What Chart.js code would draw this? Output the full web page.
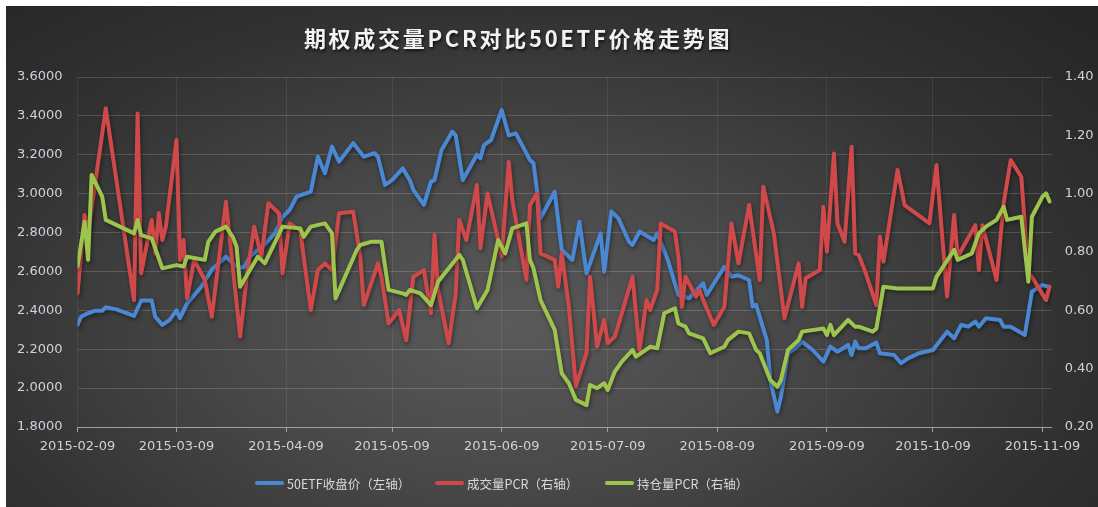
<!DOCTYPE html>
<html lang="zh-CN">
<head>
<meta charset="UTF-8">
<title>期权成交量PCR对比50ETF价格走势图</title>
<script src="https://cdn.jsdelivr.net/npm/chart.js"></script>
<style>
    body { margin: 0; background: #fff; }
    #wrap {
        position: absolute; left: 6px; top: 6px; width: 1092px; height: 501px; overflow: hidden;
        background: radial-gradient(ellipse 72% 90% at 46% 64%, #5a5a5a 0%, #484848 35%, #323232 70%, #262626 100%);
    }
    #chart { position: absolute; left: 0; top: 0; }
    #title {
        position: absolute; left: 0; top: 16px; width: 1024px; text-align: center;
        font: bold 22px "Noto Sans CJK SC", sans-serif; letter-spacing: 2.7px; line-height: 30px;
        color: #f2f2f2; text-shadow: 1px 2px 3px rgba(0,0,0,0.7);
    }
    #legend {
        position: absolute; left: 249px; top: 467px; height: 20px; width: 560px;
        font: 12.5px "Noto Sans CJK SC", sans-serif; color: #d9d9d9;
    }
    #legend .item { position: absolute; top: 0; height: 20px; display: flex; align-items: center; white-space: nowrap; }
    #legend .swatch { width: 29px; height: 4px; border-radius: 2px; margin-right: 3px; }
</style>
</head>
<body>
<div id="wrap">
    <canvas id="chart" width="1092" height="501"></canvas>
    <div id="title">期权成交量PCR对比50ETF价格走势图</div>
    <div id="legend"></div>
</div>

<script>
    // x values are calendar days counted from 2015-02-09
    const xTickLabels = ['2015-02-09', '2015-03-09', '2015-04-09', '2015-05-09', '2015-06-09',
        '2015-07-09', '2015-08-09', '2015-09-09', '2015-10-09', '2015-11-09'];

    const etfDays = [
        0, 1, 3, 5, 7, 8, 11, 16, 18, 21,
        22, 24, 26, 28, 29, 31, 35, 38, 42, 44,
        46, 47, 49, 53, 56, 58, 60, 62, 66, 68,
        70, 72, 74, 78, 81, 84, 85, 87, 89, 92,
        94, 95, 98, 100, 101, 103, 106, 107, 109, 113,
        114, 115, 117, 120, 122, 124, 127, 128, 129, 131,
        135, 137, 140, 142, 144, 148, 149, 151, 153, 156,
        157, 159, 163, 164, 167, 170, 173, 177, 178, 183,
        185, 187, 190, 191, 192, 195, 196, 198, 199, 201,
        203, 205, 208, 211, 213, 215, 218, 219, 220, 221,
        223, 226, 227, 231, 233, 235, 238, 242, 246, 248,
        250, 252, 254, 255, 257, 261, 262, 264, 268, 270,
        273, 275
    ];
    const etfClose = [
        2.325, 2.367, 2.385, 2.398, 2.398, 2.416, 2.405, 2.371, 2.45, 2.45,
        2.367, 2.325, 2.35, 2.40, 2.36, 2.436, 2.52, 2.61, 2.676, 2.64,
        2.62, 2.62, 2.68, 2.74, 2.80, 2.88, 2.916, 2.985, 3.01, 3.19,
        3.105, 3.242, 3.165, 3.26, 3.19, 3.208, 3.19, 3.045, 3.07, 3.13,
        3.07, 3.02, 2.942, 3.062, 3.07, 3.225, 3.319, 3.30, 3.07, 3.20,
        3.182, 3.25, 3.276, 3.43, 3.30, 3.31, 3.208, 3.173, 3.156, 2.874,
        3.01, 2.71, 2.659, 2.856, 2.59, 2.796, 2.599, 2.908, 2.874, 2.753,
        2.736, 2.805, 2.762, 2.796, 2.659, 2.479, 2.462, 2.539, 2.479, 2.624,
        2.573, 2.58, 2.556, 2.419, 2.428, 2.247, 2.042, 1.879, 1.956, 2.179,
        2.205, 2.239, 2.196, 2.136, 2.213, 2.187, 2.222, 2.17, 2.239, 2.205,
        2.205, 2.234, 2.179, 2.17, 2.128, 2.153, 2.179, 2.196, 2.29, 2.256,
        2.325, 2.316, 2.342, 2.316, 2.359, 2.35, 2.316, 2.316, 2.273, 2.496,
        2.53, 2.52
    ];

    const volDays = [
        0, 2, 3, 8, 16, 17, 18, 21, 22, 23,
        24, 25, 28, 29, 30, 31, 33, 36, 38, 42,
        46, 48, 50, 52, 54, 57, 58, 60, 63, 66,
        68, 70, 72, 74, 78, 80, 81, 85, 86, 88,
        91, 93, 95, 98, 100, 101, 102, 105, 107, 108,
        110, 113, 114, 116, 119, 120, 122, 123, 127, 128,
        130, 131, 135, 136, 137, 139, 141, 144, 145, 147,
        149, 150, 152, 154, 157, 159, 161, 162, 164, 165,
        169, 170, 171, 172, 175, 176, 177, 180, 183, 185,
        187, 190, 193, 194, 197, 200, 204, 205, 206, 210,
        211, 212, 214, 215, 217, 219, 220, 221, 223, 226,
        227, 228, 232, 234, 241, 243, 246, 248, 249, 254,
        255, 256, 260, 262, 264, 267, 269, 270, 274, 275
    ];
    const volPCR = [
        0.658, 0.927, 0.864, 1.293, 0.635, 1.275, 0.727, 0.91, 0.795, 0.933,
        0.841, 0.887, 1.184, 0.773, 0.841, 0.641, 0.773, 0.704, 0.578, 0.972,
        0.51, 0.727, 0.887, 0.784, 0.967, 0.933, 0.727, 0.898, 0.875, 0.601,
        0.738, 0.761, 0.738, 0.933, 0.938, 0.784, 0.618, 0.761, 0.715, 0.555,
        0.601, 0.498, 0.715, 0.738, 0.59, 0.858, 0.67, 0.487, 0.658, 0.91,
        0.841, 1.03, 0.813, 1.001, 0.841, 0.784, 1.109, 0.978, 0.704, 0.961,
        1.001, 0.795, 0.773, 0.681, 0.795, 0.612, 0.34, 0.453, 0.715, 0.475,
        0.567, 0.487, 0.51, 0.59, 0.715, 0.464, 0.635, 0.601, 0.67, 0.898,
        0.87, 0.784, 0.612, 0.715, 0.647, 0.67, 0.635, 0.55, 0.612, 0.898,
        0.761, 0.961, 0.704, 1.024, 0.864, 0.573, 0.761, 0.612, 0.71, 0.738,
        0.955, 0.801, 1.138, 0.898, 0.835, 1.161, 0.795, 0.79, 0.727, 0.618,
        0.852, 0.767, 1.081, 0.961, 0.898, 1.098, 0.647, 0.927, 0.784, 0.892,
        0.738, 0.892, 0.704, 0.967, 1.115, 1.058, 0.727, 0.715, 0.635, 0.681
    ];

    const oiDays = [
        0, 2, 3, 4, 7, 8, 16, 17, 18, 21,
        24, 28, 30, 31, 36, 37, 39, 42, 44, 45,
        46, 51, 53, 58, 63, 64, 66, 70, 72, 73,
        79, 80, 83, 86, 88, 92, 93, 94, 97, 100,
        102, 108, 109, 113, 116, 119, 121, 123, 127, 128,
        129, 131, 135, 137, 139, 141, 144, 145, 147, 149,
        150, 152, 154, 157, 158, 162, 164, 166, 169, 170,
        172, 173, 177, 179, 183, 184, 187, 190, 192, 193,
        196, 198, 199, 201, 204, 205, 211, 212, 213, 214,
        218, 220, 221, 225, 226, 228, 232, 240, 242, 243,
        248, 249, 253, 255, 257, 260, 262, 263, 267, 269,
        270, 273, 274, 275
    ];
    const oiPCR = [
        0.75, 0.904, 0.773, 1.064, 0.99, 0.91, 0.864, 0.91, 0.858, 0.847,
        0.744, 0.755, 0.75, 0.784, 0.773, 0.835, 0.87, 0.887, 0.85, 0.818,
        0.681, 0.784, 0.761, 0.887, 0.881, 0.852, 0.887, 0.898, 0.864, 0.641,
        0.807, 0.824, 0.835, 0.835, 0.67, 0.658, 0.653, 0.67, 0.658, 0.618,
        0.698, 0.79, 0.773, 0.607, 0.67, 0.841, 0.795, 0.881, 0.898, 0.773,
        0.744, 0.635, 0.533, 0.384, 0.35, 0.293, 0.275, 0.344, 0.333, 0.35,
        0.327, 0.39, 0.424, 0.464, 0.441, 0.475, 0.47, 0.59, 0.607, 0.555,
        0.544, 0.521, 0.504, 0.453, 0.475, 0.498, 0.527, 0.521, 0.464, 0.453,
        0.361, 0.338, 0.361, 0.464, 0.498, 0.527, 0.538, 0.515, 0.55, 0.515,
        0.567, 0.544, 0.544, 0.527, 0.538, 0.681, 0.675, 0.675, 0.675, 0.715,
        0.807, 0.773, 0.795, 0.864, 0.887, 0.91, 0.955, 0.91, 0.921, 0.698,
        0.921, 0.99, 1.001, 0.973
    ];

    const DAY = 86400000;
    const start = Date.parse(xTickLabels[0]);
    const xTickDays = xTickLabels.map(s => (Date.parse(s) - start) / DAY);

    const toPoints = (days, vals) => days.map((d, i) => ({ x: d, y: vals[i] }));

    const tickColor = '#cdd3dc';
    const tickFont = { family: 'DejaVu Sans', size: 13 };
    const legendOffsets = [0, 180, 350];   // px from the legend's left edge

    // soft drop shadow under the lines, like the Excel original
    const lineShadow = {
        id: 'lineShadow',
        beforeDatasetsDraw(chart) {
            const c = chart.ctx;
            c.save();
            c.shadowColor = 'rgba(0,0,0,0.45)';
            c.shadowBlur = 4;
            c.shadowOffsetX = 1;
            c.shadowOffsetY = 2;
        },
        afterDatasetsDraw(chart) {
            chart.ctx.restore();
        }
    };

    const chart = new Chart(document.getElementById('chart'), {
        type: 'line',
        data: {
            datasets: [
                { label: '50ETF收盘价（左轴）', data: toPoints(etfDays, etfClose), yAxisID: 'yL',
                  borderColor: '#4a88d4', backgroundColor: '#4a88d4', order: 3 },
                { label: '成交量PCR（右轴）', data: toPoints(volDays, volPCR), yAxisID: 'yR',
                  borderColor: '#d0494a', backgroundColor: '#d0494a', order: 2 },
                { label: '持仓量PCR（右轴）', data: toPoints(oiDays, oiPCR), yAxisID: 'yR',
                  borderColor: '#9dc44d', backgroundColor: '#9dc44d', order: 1 }
            ]
        },
        options: {
            responsive: false,
            animation: false,
            layout: { padding: { top: 71, left: 0, right: 0, bottom: 0 } },
            elements: {
                point: { radius: 0, hoverRadius: 0 },
                line: { borderWidth: 4, tension: 0, borderJoinStyle: 'round', borderCapStyle: 'round', fill: false }
            },
            plugins: {
                legend: { display: false },
                title: { display: false },
                tooltip: { enabled: false }
            },
            scales: {
                x: {
                    type: 'linear',
                    min: 0,
                    max: 275.6,
                    afterBuildTicks: axis => { axis.ticks = xTickDays.map(v => ({ value: v })); },
                    afterFit: axis => { axis.height = 80; },
                    ticks: {
                        autoSkip: false, maxRotation: 0, padding: 7,
                        color: tickColor, font: tickFont,
                        callback: (v, i) => xTickLabels[i]
                    },
                    grid: { color: 'rgba(255,255,255,0.08)', tickColor: '#a0a0a0', tickLength: 5 },
                    border: { color: '#a0a0a0', width: 1 }
                },
                yL: {
                    position: 'left',
                    min: 1.8,
                    max: 3.6,
                    afterFit: axis => { axis.width = 71.5; },
                    ticks: { stepSize: 0.2, padding: 15, color: tickColor, font: tickFont,
                             callback: v => v.toFixed(4) },
                    grid: { color: 'rgba(255,255,255,0.16)', drawTicks: false },
                    border: { display: false }
                },
                yR: {
                    position: 'right',
                    min: 0.2,
                    max: 1.4,
                    afterFit: axis => { axis.width = 46.3; },
                    ticks: { stepSize: 0.2, padding: 13, color: tickColor, font: tickFont,
                             callback: v => v.toFixed(2) },
                    grid: { display: false, drawTicks: false },
                    border: { display: false }
                }
            }
        },
        plugins: [lineShadow]
    });

    // HTML legend built from the datasets
    const legendBox = document.getElementById('legend');
    chart.data.datasets.forEach((ds, i) => {
        const item = document.createElement('div');
        item.className = 'item';
        item.style.left = legendOffsets[i] + 'px';
        const sw = document.createElement('span');
        sw.className = 'swatch';
        sw.style.background = ds.borderColor;
        const txt = document.createElement('span');
        txt.textContent = ds.label;
        item.appendChild(sw);
        item.appendChild(txt);
        legendBox.appendChild(item);
    });
</script>
</body>
</html>
